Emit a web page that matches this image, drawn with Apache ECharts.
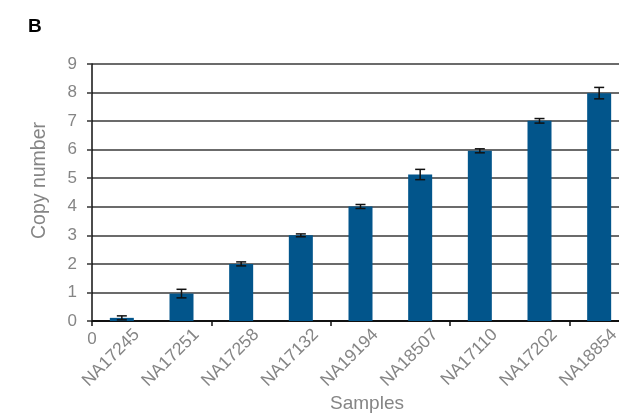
<!DOCTYPE html>
<html><head><meta charset="utf-8">
<script src="https://cdn.jsdelivr.net/npm/echarts@6/dist/echarts.min.js"></script>
<style>html,body{margin:0;padding:0;background:#fff}#c{width:619px;height:416px}</style>
</head><body><div id="c"></div>
<script>
const categories = ['NA17245','NA17251','NA17258','NA17132','NA19194','NA18507','NA17110','NA17202','NA18854'];
const copyNumber = [0.11, 0.96, 2.0, 3.0, 4.01, 5.13, 5.96, 7.01, 7.98];
const errors = [0.07, 0.15, 0.07, 0.05, 0.07, 0.18, 0.07, 0.08, 0.2];
const yTicks = [0,1,2,3,4,5,6,7,8,9];

const font = 'Liberation Sans, Arial, sans-serif';
const grey = '#858585';
const chart = echarts.init(document.getElementById('c'));
chart.setOption({
  animation: false,
  title: { text: 'B', left: 23, top: 12, textStyle: { fontFamily: font, fontSize: 19, fontWeight: 'bold', color: '#000' } },
  grid: { left: 92, width: 537, top: 64, bottom: 95, containLabel: false, outerBoundsMode: 'none' },
  xAxis: {
    type: 'category', data: categories,
    axisLine: { lineStyle: { color: '#111', width: 2 } },
    axisTick: { show: true, length: 5, lineStyle: { color: '#111', width: 1.5 } },
    axisLabel: { show: false }
  },
  yAxis: {
    type: 'value', min: yTicks[0], max: yTicks[yTicks.length - 1], interval: 1,
    axisLine: { show: true, lineStyle: { color: '#111', width: 1.5 } },
    axisTick: { show: true, length: 5, lineStyle: { color: '#333', width: 1.5 } },
    axisLabel: { fontFamily: font, fontSize: 17, color: grey, margin: 15 },
    splitLine: { lineStyle: { color: '#3a3a3a', width: 1.5 } }
  },
  series: [
    { type: 'bar', data: copyNumber, barWidth: 24, itemStyle: { color: '#02558b' }, z: 2 },
    {
      type: 'custom', z: 3,
      data: copyNumber.map((v, i) => [i, v - errors[i], v + errors[i]]),
      renderItem: function (params, api) {
        const lo = api.coord([api.value(0), api.value(1)]);
        const hi = api.coord([api.value(0), api.value(2)]);
        const w = 5;
        const st = { stroke: '#111', lineWidth: 1.5 };
        return { type: 'group', children: [
          { type: 'line', shape: { x1: lo[0], y1: lo[1], x2: hi[0], y2: hi[1] }, style: st },
          { type: 'line', shape: { x1: lo[0] - w, y1: lo[1], x2: lo[0] + w, y2: lo[1] }, style: st },
          { type: 'line', shape: { x1: hi[0] - w, y1: hi[1], x2: hi[0] + w, y2: hi[1] }, style: st }
        ]};
      }
    }
  ]
});
const axisY = chart.convertToPixel({ yAxisIndex: 0 }, 0);
const c0 = chart.convertToPixel({ xAxisIndex: 0 }, 0);
const c1 = chart.convertToPixel({ xAxisIndex: 0 }, 1);
const step = c1 - c0;
const topY = chart.convertToPixel({ yAxisIndex: 0 }, yTicks[yTicks.length - 1]);
const gfx = [];
categories.forEach((name, i) => {
  const cx = chart.convertToPixel({ xAxisIndex: 0 }, i);
  gfx.push({ type: 'text', x: cx + 15, y: axisY + 11, rotation: Math.PI / 4,
    style: { text: name, fontFamily: font, fontSize: 17.5, fill: grey, align: 'right', verticalAlign: 'middle' } });
});
gfx.push({ type: 'text', x: c0 - step / 2, y: axisY + 18,
  style: { text: '0', fontFamily: font, fontSize: 17, fill: grey, align: 'center', verticalAlign: 'middle' } });
gfx.push({ type: 'text', x: 367, y: 404,
  style: { text: 'Samples', fontFamily: font, fontSize: 19, fill: grey, align: 'center', verticalAlign: 'middle' } });
gfx.push({ type: 'text', x: 40, y: (topY + axisY) / 2 - 12, rotation: Math.PI / 2,
  style: { text: 'Copy number', fontFamily: font, fontSize: 19.5, fill: grey, align: 'center', verticalAlign: 'middle' } });
chart.setOption({ graphic: gfx });
</script></body></html>
